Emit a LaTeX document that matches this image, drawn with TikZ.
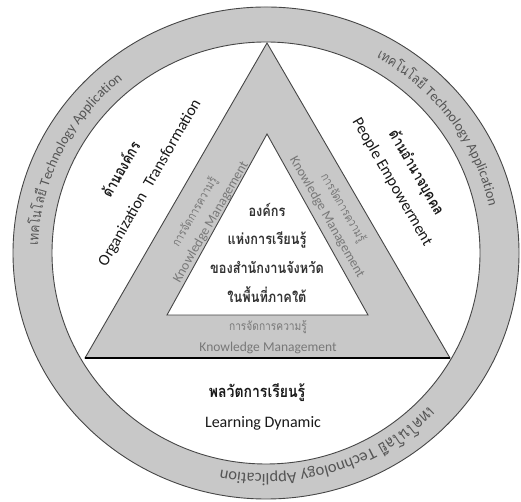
\documentclass[tikz,border=0pt]{standalone}
\usepackage{fontspec}
\setmainfont{Carlito}
\newfontfamily\thai[Script=Thai,FakeStretch=0.85]{Loma}
\usetikzlibrary{decorations.text}
\definecolor{bandgray}{RGB}{200,200,200}
\definecolor{edgegray}{RGB}{70,70,70}
\definecolor{ringtext}{RGB}{85,85,85}
\definecolor{kmtext}{RGB}{120,120,120}
\definecolor{labeltext}{RGB}{25,25,25}
\definecolor{centretext}{RGB}{50,50,50}
\tikzset{
  thlbl/.style={font=\thai\bfseries\fontsize{15}{18}\selectfont, text=labeltext, inner sep=0pt},
  enlbl/.style={font=\fontsize{16}{19}\selectfont, text=labeltext, inner sep=0pt},
  kmth/.style={font=\thai\fontsize{12}{14}\selectfont, text=kmtext, inner sep=0pt},
  kmen/.style={font=\fontsize{13.5}{16}\selectfont, text=kmtext, inner sep=0pt},
  centre/.style={font=\thai\bfseries\fontsize{15}{18}\selectfont, text=centretext, inner sep=0pt},
  edge/.style={draw=edgegray, line width=0.9pt},
}
\begin{document}
\begin{tikzpicture}[x=1pt,y=1pt]
\useasboundingbox (0,0) rectangle (521,502);
\coordinate (c) at (266,249);
% ring
\path[fill=bandgray, edge] (c) ellipse [x radius=253, y radius=246];
\path[fill=white, edge] (c) ellipse [x radius=214, y radius=211];
% outer triangle
\coordinate (A) at (267,459);
\coordinate (B) at (85,144);
\coordinate (C) at (450,144);
\path[fill=bandgray, edge] (A) -- (B) -- (C) -- cycle;
\draw[black, line width=1.2pt] (B) -- (C);
% inner triangle
\coordinate (a) at (267,368);
\coordinate (b) at (167,187);
\coordinate (cc) at (368,187);
\path[fill=white, edge] (a) -- (b) -- (cc) -- cycle;

% ring texts
\path[decorate, decoration={text along path, text color=ringtext,
  text={|\thai\fontsize{14}{16}\selectfont|เทคโนโล{ยี} |\rmfamily\fontsize{14}{16}\selectfont|Technology Application}}]
  (c) ++(178:228 and 223) arc [start angle=178, end angle=90, x radius=228, y radius=223];
\path[decorate, decoration={text along path, text color=ringtext,
  text={|\thai\fontsize{14}{16}\selectfont|เทคโนโล{ยี} |\rmfamily\fontsize{14}{16}\selectfont|Technology Application}}]
  (c) ++(61:228 and 223) arc [start angle=61, end angle=-30, x radius=228, y radius=223];
\path[decorate, decoration={text along path, text color=ringtext,
  text={|\thai\fontsize{16.5}{18}\selectfont|เทคโนโล{ยี} |\rmfamily\fontsize{16.5}{18}\selectfont|Technology Application}}]
  (c) ++(-44:226 and 221) arc [start angle=-44, end angle=-150, x radius=226, y radius=221];

% side labels
\node[thlbl, rotate=60] (orgth) at (120,333) {ด้านองค์กร};
\node[enlbl, rotate=60] (orgen) at (150,319) {Organization\hspace{0.3em} Transformation};
\node[thlbl, rotate=-60] (pplth) at (416,329) {ด้านอำนาจบุคคล};
\node[enlbl, rotate=-60] (pplen) at (392,320) {People Empowerment};

% knowledge management labels
\node[kmth, rotate=60] (kmlth) at (195,290) {การจัดการความรู้};
\node[kmen, rotate=60] (kmlen) at (211,280) {Knowledge Management};
\node[kmth, rotate=-60] (kmrth) at (343,294) {การจัดการความรู้};
\node[kmen, rotate=-60] (kmren) at (327,285) {Knowledge Management};
\node[kmth] (kmbth) at (268,175) {การจัดการความรู้};
\node[kmen] (kmben) at (268,154) {Knowledge Management};

% centre
\node[centre] (c1) at (267,292) {องค์กร};
\node[centre] (c2) at (267,262) {แห่งการเรียนรู้};
\node[centre] (c3) at (267,235) {ของสำนักงานจังหวัด};
\node[centre] (c4) at (267,207) {ในพื้นที่ภาคใต้};

% bottom
\node[thlbl, font=\thai\bfseries\fontsize{16.5}{19}\selectfont] (dynth) at (257,109) {พลวัตการเรียนรู้};
\node[enlbl] (dynen) at (263,79) {Learning Dynamic};
\end{tikzpicture}
\end{document}
